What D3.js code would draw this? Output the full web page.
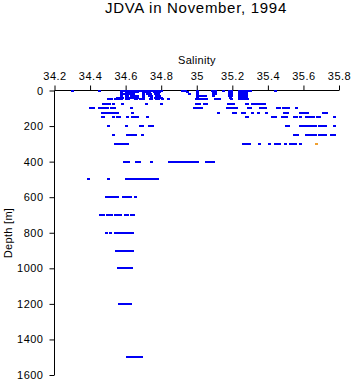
<!DOCTYPE html>
<html><head><meta charset="utf-8">
<script src="https://cdn.jsdelivr.net/npm/d3@7"></script>
<style>body{margin:0;background:#fff}svg{display:block}text{font-family:"Liberation Sans",Arial,sans-serif;fill:#000}</style>
</head><body><svg id="c" width="353" height="384"></svg>
<script>
const title = "JDVA in November, 1994";
const xLabel = "Salinity";
const yLabel = "Depth [m]";
const xTicks = [34.2,34.4,34.6,34.8,35,35.2,35.4,35.6,35.8];
const yTicks = [0,200,400,600,800,1000,1200,1400,1600];

const depths = [0,10,20,30,40,50,75,100,125,150,200,250,300,400,500,600,700,800,900,1000,1200,1500];
const s0 = [34.30,34.45,34.575,34.585,34.60,34.61,34.62,34.63,34.64,34.65,34.66,34.67,34.68,34.69,34.70,34.71,34.72,34.73,34.74,34.75,34.76,34.77,34.78,34.79,34.80,34.915,34.925,34.935,35.0,35.085,35.095,35.10,35.15,35.18,35.19,35.235,35.245,35.255,35.265,35.275,35.29,35.30,35.44];
const s10 = [34.575,34.60,34.605,34.615,34.625,34.64,34.65,34.665,34.70,34.715,34.73,34.76,34.775,34.79,34.945,35.0,35.09,35.10,35.18,35.19,35.235,35.245,35.255,35.265,35.275];
const s20 = [34.575,34.59,34.60,34.61,34.625,34.64,34.70,34.72,34.735,34.765,34.78,34.955,35.0,35.09,35.10,35.18,35.19,35.235,35.245,35.255,35.265,35.275];
const s30 = [34.575,34.60,34.61,34.63,34.645,34.665,34.70,34.73,34.745,34.77,34.79,35.0,35.015,35.025,35.035,35.045,35.09,35.18,35.19,35.235,35.245,35.255,35.265,35.275];
const s40 = [34.55,34.565,34.575,34.58,34.60,34.61,34.62,34.63,34.645,34.655,34.665,34.70,34.745,34.765,34.78,34.80,35.0,35.185,35.235,35.245,35.255,35.265,35.275];
const s50 = [34.50,34.515,34.54,34.55,34.56,34.575,34.60,34.615,34.65,34.66,34.68,34.69,34.70,34.735,34.745,34.77,34.78,34.805,34.84,34.995,35.005,35.02,35.03,35.04,35.05,35.105,35.115,35.125,35.195,35.24,35.25,35.26,35.27,35.28];
const s75 = [34.475,34.485,34.495,34.505,34.53,34.58,34.715,34.80,34.995,35.005,35.015,35.04,35.05,35.175,35.185,35.195,35.205,35.275,35.285,35.31,35.325,35.34,35.35,35.36,35.37,35.38];
const s100 = [34.40,34.415,34.45,34.46,34.47,34.48,34.495,34.52,34.535,34.63,34.985,34.995,35.015,35.025,35.17,35.18,35.19,35.20,35.21,35.22,35.29,35.30,35.355,35.365,35.375,35.385,35.45,35.465,35.485,35.495,35.505,35.515,35.56];
const s125 = [34.465,34.475,34.49,34.50,34.51,34.53,34.54,34.55,34.635,35.12,35.205,35.215,35.255,35.265,35.31,35.345,35.39,35.49,35.50,35.51,35.58,35.59,35.60,35.61,35.62,35.71,35.725];
const s150 = [34.465,34.475,34.53,34.55,34.56,34.61,34.635,34.645,34.655,34.665,34.72,35.275,35.285,35.425,35.44,35.48,35.49,35.50,35.545,35.56,35.58,35.615,35.625,35.635,35.645,35.655,35.675,35.69,35.77];
const s200 = [34.50,34.60,34.68,34.69,34.73,34.74,34.75,35.50,35.515,35.58,35.595,35.61,35.62,35.63,35.64,35.655,35.665,35.685,35.695,35.705,35.72,35.77];
const s250 = [34.53,34.61,34.62,34.63,34.64,34.65,34.69,35.545,35.555,35.565,35.615,35.625,35.635,35.645,35.655,35.665,35.685,35.695,35.705,35.72,35.755,35.77];
const s300 = [34.54,34.55,34.565,34.58,34.59,34.60,34.61,35.26,35.27,35.28,35.295,35.35,35.405,35.44,35.45,35.46,35.495,35.525,35.535,35.545,35.555,35.58];
const s400 = [34.59,34.60,34.615,34.66,34.675,34.74,34.845,34.855,34.865,34.875,34.885,34.90,34.915,34.925,34.935,34.945,34.955,34.965,34.975,34.985,35.0,35.05,35.06,35.07,35.08,35.09];
const s500 = [34.39,34.50,34.60,34.61,34.62,34.63,34.64,34.65,34.66,34.67,34.68,34.69,34.70,34.71,34.72,34.73,34.74,34.75,34.76,34.775];
const s600 = [34.49,34.50,34.51,34.52,34.53,34.54,34.55,34.585,34.595,34.605,34.625,34.65];
const s700 = [34.455,34.47,34.495,34.505,34.52,34.54,34.55,34.56,34.57,34.595,34.61,34.63,34.64];
const s800 = [34.49,34.51,34.54,34.55,34.56,34.575,34.585,34.595,34.605,34.615,34.625,34.635];
const s900 = [34.545,34.555,34.565,34.575,34.585,34.595,34.605,34.615,34.625,34.635];
const s1000 = [34.555,34.565,34.58,34.59,34.60,34.61,34.62,34.63];
const s1200 = [34.565,34.575,34.585,34.595,34.605,34.615,34.625];
const s1500 = [34.61,34.62,34.63,34.64,34.655,34.67,34.685];
const salinityByDepth = [s0,s10,s20,s30,s40,s50,s75,s100,s125,s150,s200,s250,s300,s400,s500,s600,s700,s800,s900,s1000,s1200,s1500];
const orangeSalinity = [35.67];
const orangeDepth = [300];

const svg = d3.select("#c");
svg.append("rect").attr("width",353).attr("height",384).attr("fill","#fff");
const x = d3.scaleLinear().domain([34.2,35.8]).range([54.5,339]);
const y = d3.scaleLinear().domain([0,1600]).range([90.5,375]);

svg.append("text").attr("x",196).attr("y",13).attr("text-anchor","middle").style("font-size","15px").style("letter-spacing","0.7px").text(title);
svg.append("text").attr("x",197).attr("y",64).attr("text-anchor","middle").style("font-size","11px").style("letter-spacing","0.3px").text(xLabel);
svg.append("text").attr("transform","translate(12,233) rotate(-90)").attr("text-anchor","middle").style("font-size","11px").style("letter-spacing","0.3px").text(yLabel);

const xa = svg.append("g").attr("transform","translate(0,90.5)")
  .call(d3.axisTop(x).tickValues(xTicks).tickFormat(d3.format("")).tickSize(5).tickPadding(6));
const ya = svg.append("g").attr("transform","translate(54.5,0)")
  .call(d3.axisLeft(y).tickValues(yTicks).tickFormat(d3.format("")).tickSize(5).tickPadding(6));
[xa,ya].forEach(a=>{
  a.select(".domain").attr("stroke","#000").attr("stroke-width",1);
  a.selectAll(".tick line").attr("stroke","#000");
  a.selectAll(".tick text").style("font-size","11px").style("letter-spacing","0.5px").style("font-family","'Liberation Sans',Arial,sans-serif").attr("fill","#000");
});
xa.select(".domain").attr("d","M54.5,0H339");
ya.select(".domain").attr("d","M0,90.5V375");

const pts = [];
depths.forEach((d,i)=>salinityByDepth[i].forEach(s=>pts.push({s,d})));
const marker = "M-1.5,-1h3v2h-3z";
svg.append("g").selectAll("path").data(pts).join("path")
  .attr("transform",p=>`translate(${Math.round(x(p.s))+0.5},${Math.round(y(p.d))})`)
  .attr("d",marker).attr("fill","#0000f5").attr("shape-rendering","crispEdges");
svg.append("g").selectAll("path").data(orangeSalinity.map((s,i)=>({s,d:orangeDepth[i]}))).join("path")
  .attr("transform",p=>`translate(${Math.round(x(p.s))+0.5},${Math.round(y(p.d))})`)
  .attr("d",marker).attr("fill","#f0a030").attr("shape-rendering","crispEdges");
</script></body></html>
